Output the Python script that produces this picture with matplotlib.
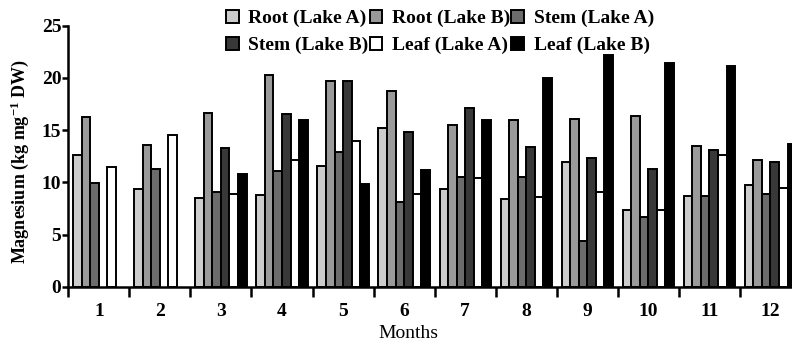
import matplotlib
matplotlib.use("Agg")
import matplotlib.pyplot as plt
import numpy as np

plt.rcParams["font.family"] = ["Liberation Serif", "DejaVu Serif"]
plt.rcParams["mathtext.default"] = "regular"

months = ["1", "2", "3", "4", "5", "6", "7", "8", "9", "10", "11", "12"]
series_names = ["Root (Lake A)", "Root (Lake B)", "Stem (Lake A)",
                "Stem (Lake B)", "Leaf (Lake A)", "Leaf (Lake B)"]
root_a = [12.6, 9.35, 8.5, 8.8, 11.6, 15.2, 9.4, 8.4, 11.9, 7.3, 8.7, 9.75]
root_b = [16.3, 13.6, 16.6, 20.3, 19.7, 18.7, 15.5, 16.0, 16.1, 16.35, 13.5, 12.1]
stem_a = [9.9, 11.3, 9.1, 11.1, 12.9, 8.15, 10.55, 10.55, 4.4, 6.7, 8.7, 8.9]
stem_b = [np.nan, np.nan, 13.25, 16.5, 19.7, 14.85, 17.1, 13.4, 12.3, 11.3, 13.1, 11.9]
leaf_a = [11.5, 14.5, 8.85, 12.1, 13.95, 8.85, 10.4, 8.6, 9.1, 7.35, 12.6, 9.5]
leaf_b = [np.nan, np.nan, 10.8, 16.0, 9.8, 11.2, 16.0, 19.95, 22.2, 21.45, 21.1, 13.7]

colors = ["#cccccc", "#9a9a9a", "#6c6c6c", "#383838", "#ffffff", "#000000"]

W, H = 792, 346
fig = plt.figure(figsize=(W / 100, H / 100), dpi=100)
left_px, bottom_px, top_px = 68.3, 286.7, 25.7
pitch = 61.06
ax = fig.add_axes([left_px / W, 1 - bottom_px / H, 1 - left_px / W, (bottom_px - top_px) / H])

x = np.arange(len(months))
bw = 0.14
all_series = [root_a, root_b, stem_a, stem_b, leaf_a, leaf_b]
handles = []
for i, (vals, col, name) in enumerate(zip(all_series, colors, series_names)):
    b = ax.bar(x + (i - 2.5) * bw, vals, width=bw, color=col, edgecolor="black",
               linewidth=1.4, label=name, zorder=2 + i)
    handles.append(b)

ax.set_ylim(0, 25)
ax.set_xlim(-0.5, -0.5 + (W - left_px) / pitch)
ax.set_yticks([0, 5, 10, 15, 20, 25])
ax.set_xticks(np.arange(len(months)) - 0.5)
ax.set_xticklabels([])
ax.set_xticks(x, minor=True)
ax.set_xticklabels(months, minor=True, fontsize=14, fontweight="bold")
ax.tick_params(axis="x", which="major", direction="out", length=7, width=1.8)
ax.tick_params(axis="x", which="minor", length=0, pad=12)
ax.tick_params(axis="y", direction="out", length=4, width=1.8, labelsize=14, pad=1)
for lab in ax.get_yticklabels():
    lab.set_fontweight("bold")

for s in ["top", "right"]:
    ax.spines[s].set_visible(False)
for s in ["left", "bottom"]:
    ax.spines[s].set_linewidth(1.8)
    ax.spines[s].set_zorder(10)

ax.set_ylabel(r"Magnesium (kg mg$^{-1}$ DW)", fontsize=13, fontweight="bold")
ax.yaxis.set_label_coords(-0.052, 0.48)
ax.set_xlabel("Months", fontsize=14)
ax.xaxis.set_label_coords(0.47, -0.145)

order = [0, 3, 1, 4, 2, 5]
leg = fig.legend([handles[i] for i in order], [series_names[i] for i in order],
                 ncol=3, loc="upper left", bbox_to_anchor=(226 / W, 1 - 10 / H),
                 frameon=False, prop={"weight": "bold", "size": 14},
                 handlelength=0.65, handleheight=0.65, handletextpad=0.5,
                 columnspacing=0.05, labelspacing=0.5, borderpad=0, borderaxespad=0)

fig.savefig("out.png", dpi=100)
